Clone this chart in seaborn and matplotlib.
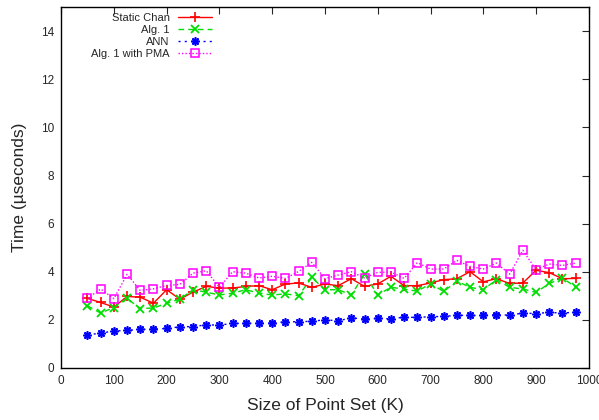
import matplotlib
matplotlib.use("Agg")
import matplotlib.pyplot as plt
import seaborn as sns
import pandas as pd

# point set sizes (K)
sizes = list(range(50, 1000, 25))

static_chan = [2.89, 2.72, 2.53, 2.97, 2.94, 2.69, 3.25, 2.86, 3.15, 3.39,
               3.32, 3.32, 3.39, 3.42, 3.25, 3.49, 3.53, 3.35, 3.49, 3.42,
               3.71, 3.39, 3.49, 3.81, 3.42, 3.42, 3.53, 3.67, 3.71, 4.00,
               3.58, 3.71, 3.51, 3.53, 4.06, 3.96, 3.71, 3.72]
alg1 = [2.58, 2.28, 2.51, 2.89, 2.47, 2.49, 2.69, 2.86, 3.25, 3.15,
        3.03, 3.11, 3.25, 3.11, 3.03, 3.08, 3.00, 3.76, 3.25, 3.25,
        3.04, 3.89, 3.04, 3.35, 3.28, 3.19, 3.50, 3.18, 3.61, 3.35,
        3.25, 3.67, 3.35, 3.28, 3.14, 3.51, 3.74, 3.36]
ann = [1.38, 1.44, 1.54, 1.56, 1.60, 1.61, 1.64, 1.71, 1.72, 1.79,
       1.78, 1.85, 1.85, 1.86, 1.86, 1.92, 1.92, 1.94, 2.00, 1.96,
       2.08, 2.03, 2.06, 2.04, 2.11, 2.10, 2.13, 2.14, 2.19, 2.18,
       2.18, 2.22, 2.19, 2.28, 2.26, 2.31, 2.28, 2.32]
alg1_pma = [2.89, 3.28, 2.88, 3.89, 3.22, 3.29, 3.43, 3.47, 3.94, 4.04,
            3.35, 4.00, 3.94, 3.74, 3.81, 3.72, 4.01, 4.39, 3.71, 3.86,
            4.00, 3.74, 3.97, 3.99, 3.72, 4.38, 4.11, 4.11, 4.47, 4.22,
            4.11, 4.36, 3.90, 4.89, 4.08, 4.32, 4.26, 4.36]

sns.set_style("white")
plt.rcParams["font.family"] = ["Liberation Sans", "DejaVu Sans"]
plt.rcParams["xtick.direction"] = "in"
plt.rcParams["ytick.direction"] = "in"

fig = plt.figure(figsize=(5.99, 4.2), dpi=100)
ax = fig.add_axes([0.102, 0.124, 0.881, 0.859])

series = [
    ("Static Chan", static_chan, "#ff0000", "-", "+", dict(markersize=7, markeredgewidth=1.2)),
    ("Alg. 1", alg1, "#00dd00", (0, (4, 3)), "x", dict(markersize=6, markeredgewidth=1.3)),
    ("ANN", ann, "#0000ff", (0, (1.5, 3)), (8, 2, 0), dict(markersize=6, markeredgewidth=1.2)),
    ("Alg. 1 with PMA", alg1_pma, "#ff00ff", (0, (1, 1.5)), "s",
     dict(markersize=6, markeredgewidth=1.1, markerfacecolor="none")),
]

for name, vals, color, ls, mk, extra in series:
    df = pd.DataFrame({"size": sizes, "time": vals})
    sns.lineplot(data=df, x="size", y="time", ax=ax, color=color, linestyle=ls,
                 marker=mk, markeredgecolor=color, linewidth=1.0, label=name, **extra)

ax.set_xlim(0, 1000)
ax.set_ylim(0, 15)
ax.set_xticks(range(0, 1001, 100))
ax.set_yticks(range(0, 15, 2))
ax.tick_params(axis="both", labelsize=8.5, length=5, width=0.8, top=True, right=True, pad=5)
for sp in ax.spines.values():
    sp.set_linewidth(1.0)
    sp.set_color("black")

ax.set_xlabel("Size of Point Set (K)", fontsize=12.5, labelpad=8)
ax.set_ylabel("Time (\u00b5seconds)", fontsize=12.5, labelpad=10)

leg = ax.legend(loc="upper right", markerfirst=False, frameon=False, fontsize=8,
                labelspacing=0.2, handlelength=3.1, handletextpad=0.7,
                borderpad=0, borderaxespad=0, bbox_to_anchor=(0.286, 0.985))
for col in leg._legend_handle_box.get_children():
    col.align = "right"

fig.savefig("out.png", dpi=100)
